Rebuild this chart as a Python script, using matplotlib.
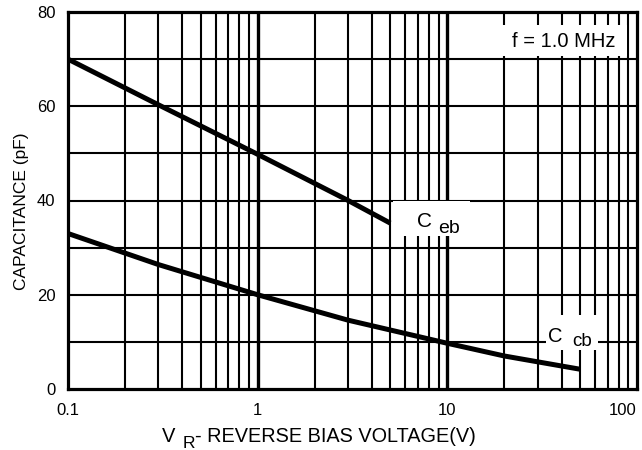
import numpy as np
import matplotlib
matplotlib.use('Agg')
import matplotlib.pyplot as plt
from matplotlib.patches import Rectangle
from matplotlib.ticker import FixedLocator, NullFormatter

plt.rcParams['font.family'] = ['Liberation Sans', 'DejaVu Sans']

# ---------------------------------------------------------------
# données
# ---------------------------------------------------------------
v_eb = [0.1, 0.3, 1.0, 3.0, 5.0]
c_eb = [70.0, 60.3, 49.8, 40.0, 35.2]

v_cb = [0.1, 0.3, 1.0, 3.0, 10.0, 20.0, 50.0]
c_cb = [33.0, 26.4, 20.0, 14.6, 9.7, 7.0, 4.2]

x_ticks = [0.1, 1, 10, 100]
x_labels = ['0.1', '1', '10', '100']
y_ticks = [0, 20, 40, 60, 80]

# ---------------------------------------------------------------
# figure
# ---------------------------------------------------------------
fig = plt.figure(figsize=(6.42, 4.5), dpi=100)
ax = fig.add_axes([68 / 642, 1 - 389 / 450, (637 - 68) / 642, (389 - 12) / 450])

ax.set_xscale('log')
ax.set_xlim(0.1, 100)
ax.set_ylim(0, 80)

# grille
minors = [m * d for d in (0.1, 1, 10) for m in range(2, 10)]
for x in minors:
    ax.axvline(x, color='black', lw=1.5, zorder=1)
for x in (1, 10):
    ax.axvline(x, color='black', lw=2.4, zorder=1)
for y in range(10, 80, 10):
    ax.axhline(y, color='black', lw=1.5, zorder=1)

ax.plot(v_eb, c_eb, color='black', lw=3.6, solid_capstyle='butt', zorder=3)
ax.plot(v_cb, c_cb, color='black', lw=3.6, solid_capstyle='butt', zorder=3)

ax.xaxis.set_major_locator(FixedLocator(x_ticks))
ax.set_xticklabels(x_labels)
ax.xaxis.set_minor_formatter(NullFormatter())
ax.set_yticks(y_ticks)
ax.tick_params(which='both', length=0, labelsize=12)
ax.tick_params(axis='x', pad=10)
ax.tick_params(axis='y', pad=9)
ax.get_xticklabels()[-1].set_horizontalalignment('right')

for s in ax.spines.values():
    s.set_linewidth(2.3)
    s.set_zorder(5)

# masques blancs derrière les étiquettes
ax.add_patch(Rectangle((0.756, 0.883), 0.226, 0.083, transform=ax.transAxes,
                       facecolor='white', edgecolor='none', zorder=2))
ax.add_patch(Rectangle((5.2, 32.5), 7.9, 7.4, facecolor='white', edgecolor='none', zorder=2))
ax.add_patch(Rectangle((33.0, 8.3), 29.0, 7.4, facecolor='white', edgecolor='none', zorder=2))

ax.text(0.962, 0.921, 'f = 1.0 MHz', transform=ax.transAxes, ha='right', va='center',
        fontsize=14.5, zorder=4)
ax.text(6.9, 34.4, 'C', ha='left', va='baseline', fontsize=15, zorder=4)
ax.text(8.9, 33.1, 'eb', ha='left', va='baseline', fontsize=14, zorder=4)
ax.text(33.9, 10.0, 'C', ha='left', va='baseline', fontsize=14.5, zorder=4)
ax.text(45.4, 9.1, 'cb', ha='left', va='baseline', fontsize=13.5, zorder=4)

ax.set_ylabel('CAPACITANCE (pF)', fontsize=12.5)
ax.yaxis.set_label_coords(-0.068, 0.472)

# titre de l'axe x, avec l'indice R
fig.text(162 / 642, 1 - 442 / 450, 'V', ha='left', va='baseline', fontsize=14.5)
fig.text(183 / 642, 1 - 448 / 450, 'R', ha='left', va='baseline', fontsize=12.5)
fig.text(195 / 642, 1 - 442 / 450, '- REVERSE BIAS VOLTAGE(V)', ha='left', va='baseline',
         fontsize=14.3)

fig.savefig('out.png', dpi=100)
